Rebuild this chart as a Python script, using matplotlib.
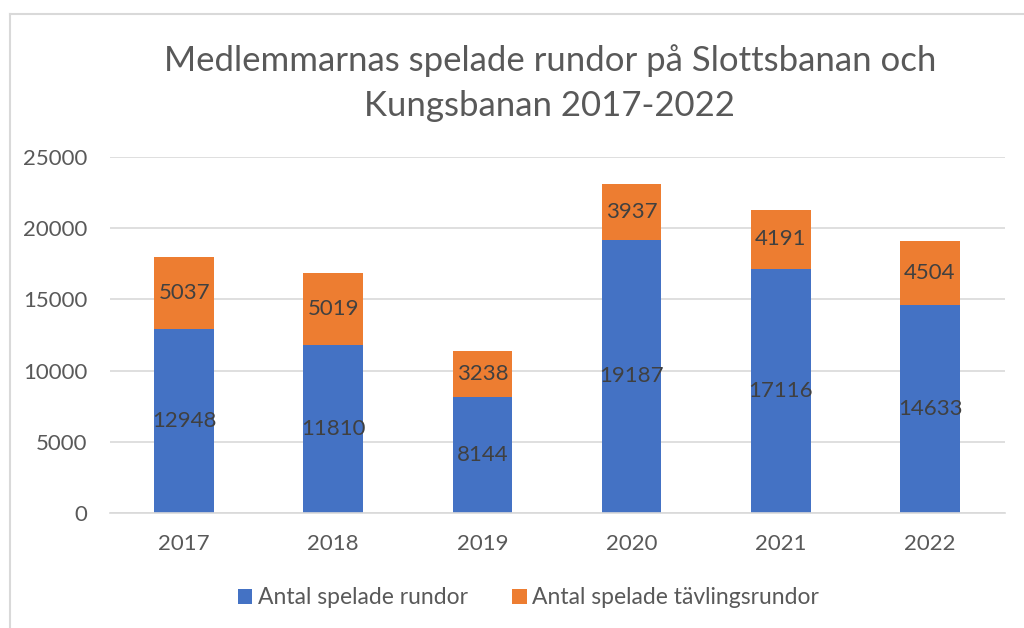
import numpy as np
import matplotlib.pyplot as plt
from matplotlib.lines import Line2D

years = ["2017", "2018", "2019", "2020", "2021", "2022"]
rundor = [12948, 11810, 8144, 19187, 17116, 14633]
tavling = [5037, 5019, 3238, 3937, 4191, 4504]
labels = ["Antal spelade rundor", "Antal spelade tävlingsrundor"]

plt.rcParams['font.family'] = ['Lato', 'DejaVu Sans']
text_col = "#595959"
blue = "#4472C4"
orange = "#ED7D31"

fig = plt.figure(figsize=(10.24, 6.28), dpi=100)
ax = fig.add_axes([0.107, 0.183, 0.874, 0.567])

x = np.arange(len(years))
w = 0.4
b1 = ax.bar(x, rundor, w, color=blue, label=labels[0], zorder=2)
b2 = ax.bar(x, tavling, w, bottom=rundor, color=orange, label=labels[1], zorder=2)

for i in range(len(years)):
  ax.text(x[i], rundor[i] / 2, str(rundor[i]), ha="center", va="center",
          fontsize=16, color="#404040", zorder=3)
  ax.text(x[i], rundor[i] + tavling[i] / 2, str(tavling[i]), ha="center",
          va="center", fontsize=16, color="#404040", zorder=3)

ax.set_xlim(-0.5, 5.5)
ax.set_ylim(0, 25000)
ax.set_yticks(range(0, 25001, 5000))
ax.set_xticks(x)
ax.set_xticklabels(years)
ax.tick_params(axis="both", length=0, labelsize=16, colors=text_col)
ax.tick_params(axis="y", pad=16)
ax.tick_params(axis="x", pad=15)
ax.grid(axis="y", color="#D9D9D9", linewidth=1.2, zorder=0)
for s in ["top", "right", "left"]:
  ax.spines[s].set_visible(False)
ax.spines["bottom"].set_color("#D9D9D9")
ax.spines["bottom"].set_linewidth(1.2)

fig.text(0.537, 0.867, "Medlemmarnas spelade rundor på Slottsbanan och\nKungsbanan 2017-2022",
         ha="center", va="center", fontsize=25, color=text_col, linespacing=1.5)

fig.legend(handles=[b1, b2], labels=labels, loc="center", bbox_to_anchor=(0.516, 0.048),
           ncol=2, frameon=False, fontsize=16.5, labelcolor=text_col,
           handlelength=0.65, handleheight=0.65, handletextpad=0.25, columnspacing=1.9)

# chart frame
fig.add_artist(Line2D([10 / 1024, 10 / 1024], [0, 1 - 14 / 628], color="#D9D9D9", lw=1.5))
fig.add_artist(Line2D([10 / 1024, 1], [1 - 14 / 628, 1 - 14 / 628], color="#D9D9D9", lw=1.5))

fig.savefig("out.png", dpi=100)
